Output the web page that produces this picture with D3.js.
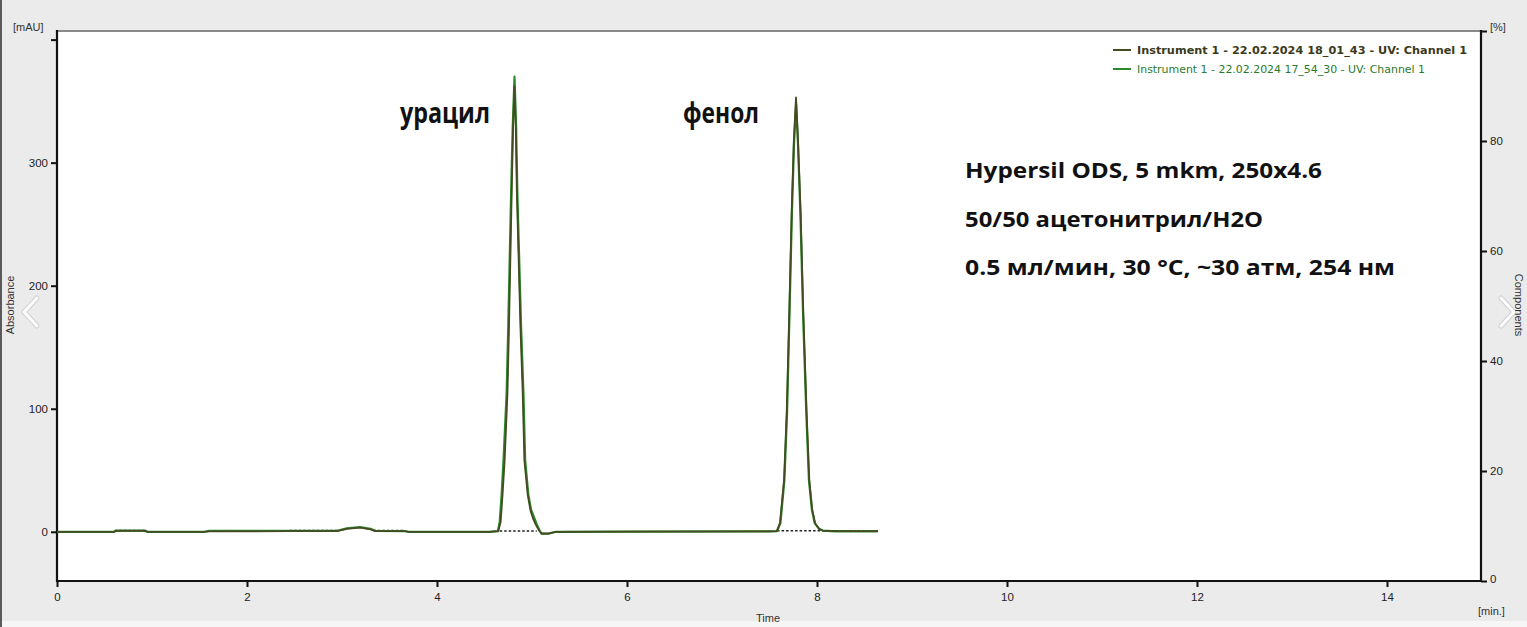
<!DOCTYPE html>
<html>
<head>
<meta charset="utf-8">
<script src="https://cdn.jsdelivr.net/npm/d3@7"></script>
<style>
  html, body { margin: 0; padding: 0; background: #ebebeb; }
  svg { display: block; }
</style>
</head>
<body>
<svg id="chart" width="1527" height="627"></svg>
<script>
// ---------------- DATA ----------------
const timeTicks = [0, 2, 4, 6, 8, 10, 12, 14];
const absTicks = [0, 100, 200, 300, 400];
const pctTicks = [0, 20, 40, 60, 80, 100];

const seriesNames = [
  "Instrument 1 - 22.02.2024 18_01_43 - UV: Channel 1",
  "Instrument 1 - 22.02.2024 17_54_30 - UV: Channel 1"
];
const seriesColors = ["#454a22", "#2c8a2c"];

// run 18_01_43 (time min, mAU)
const run1 = [
  [0, 0], [0.6, 0], [0.62, 0.7], [0.93, 0.7], [0.95, 0], [1.55, 0], [1.6, 0.3],
  [2.45, 0.5], [2.95, 0.6], [3.05, 2.4], [3.19, 3.4], [3.3, 2], [3.35, 0.6],
  [3.66, 0.5], [3.7, 0], [4.55, 0], [4.645, 0.5], [4.67, 8], [4.69, 30],
  [4.712, 58], [4.742, 113], [4.758, 167], [4.786, 275], [4.801, 329],
  [4.815, 362], [4.829, 329], [4.841, 275], [4.878, 167], [4.902, 113],
  [4.92, 58], [4.955, 30], [4.985, 17], [5.015, 10], [5.045, 5], [5.075, 1],
  [5.10, -1.4], [5.17, -1.4], [5.25, 0], [6.0, 0.2], [7.5, 0.3], [7.576, 0.5],
  [7.61, 7], [7.653, 42], [7.681, 97], [7.708, 178], [7.733, 259],
  [7.756, 318], [7.779, 353], [7.80, 318], [7.828, 259], [7.856, 178],
  [7.891, 97], [7.919, 42], [7.95, 18], [7.98, 7], [8.02, 2.5], [8.06, 1],
  [8.2, 0.5], [8.64, 0.5]
];

// run 17_54_30 (time min, mAU)
const run2 = [
  [0, 0], [0.6, 0], [0.62, 0.9], [0.93, 0.9], [0.95, 0], [1.55, 0], [1.6, 0.8],
  [2.45, 0.8], [2.95, 0.8], [3.05, 2.8], [3.19, 3.9], [3.3, 2.4], [3.35, 0.8],
  [3.66, 0.6], [3.7, 0], [4.55, 0], [4.64, 0.5], [4.66, 8], [4.68, 30],
  [4.70, 58], [4.733, 113], [4.75, 167], [4.78, 275], [4.797, 329],
  [4.816, 370], [4.833, 329], [4.846, 275], [4.885, 167], [4.91, 113],
  [4.928, 58], [4.962, 30], [4.99, 18], [5.02, 12], [5.05, 6], [5.08, 1],
  [5.10, -1.6], [5.17, -1.6], [5.25, 0], [6.0, 0.2], [7.5, 0.3], [7.58, 0.5],
  [7.615, 7], [7.657, 42], [7.685, 97], [7.711, 178], [7.736, 259],
  [7.758, 315], [7.78, 348], [7.80, 315], [7.825, 259], [7.853, 178],
  [7.887, 97], [7.915, 42], [7.946, 18], [7.976, 7], [8.02, 2.5], [8.06, 1],
  [8.2, 0.4], [8.64, 0.4]
];

// dotted integration baselines: [start time, end time, level mAU]
const baselines = [
  [0.61, 0.93, 1.0], [2.45, 2.95, 1.0], [3.33, 3.66, 1.0],
  [4.66, 5.05, 0.6], [7.58, 8.64, 0.9]
];

// peak labels: [name, time of label start, level mAU]
const peakLabels = [["урацил", 3.61, 332], ["фенол", 6.59, 332]];

const infoLines = [
  "Hypersil ODS, 5 mkm, 250x4.6",
  "50/50 ацетонитрил/H2O",
  "0.5 мл/мин, 30 °C, ~30 атм, 254 нм"
];
const infoWidths = [357, 298, 430];

// ---------------- DRAW ----------------
const svg = d3.select("#chart");
const W = 1527, H = 627;
const L = 57, R = 1482, T = 31, B = 581;

const x = d3.scaleLinear().domain([0, 15]).range([L, R]);
const y = d3.scaleLinear().domain([-40, 407]).range([B, T]);
const yR = d3.scaleLinear().domain([0, 100]).range([B, T]);

// backgrounds
svg.append("rect").attr("width", W).attr("height", H).attr("fill", "#ebebeb");
svg.append("rect").attr("x", 0).attr("y", 621).attr("width", W).attr("height", 6).attr("fill", "#f6f6f6");
svg.append("rect").attr("x", 0).attr("y", 0).attr("width", 2).attr("height", H).attr("fill", "#5a5a5a");
svg.append("rect").attr("x", L).attr("y", T).attr("width", R - L).attr("height", B - T).attr("fill", "#ffffff");

const font = "'Liberation Sans', Arial, sans-serif";

// axes
const gx = svg.append("g").attr("transform", `translate(0,${B})`)
  .call(d3.axisBottom(x).tickValues(timeTicks).tickSize(6).tickPadding(6).tickFormat(d3.format("d")));
const gy = svg.append("g").attr("transform", `translate(${L},0)`)
  .call(d3.axisLeft(y).tickValues(absTicks).tickSize(6).tickPadding(3)
    .tickFormat(d => d === 400 ? "" : d));
const gyr = svg.append("g").attr("transform", `translate(${R - 1},0)`)
  .call(d3.axisRight(yR).tickValues(pctTicks).tickSize(6).tickPadding(3)
    .tickFormat(d => d === 100 ? "" : d));

[gx, gy, gyr].forEach(g => {
  g.select(".domain").remove();
  g.selectAll(".tick line").attr("stroke", "#111").attr("stroke-width", 2);
  g.selectAll(".tick text").attr("font-family", font).attr("font-size", 11.5).attr("fill", "#222");
});
gyr.selectAll(".tick text").filter(d => d === 0).attr("dy", "0.1em");

// frame
svg.append("line").attr("x1", L).attr("x2", R).attr("y1", T).attr("y2", T)
  .attr("stroke", "#8a8a8a").attr("stroke-width", 2);
svg.append("line").attr("x1", L).attr("x2", L).attr("y1", T - 1).attr("y2", B + 1)
  .attr("stroke", "#111").attr("stroke-width", 2.2);
svg.append("line").attr("x1", R - 1).attr("x2", R - 1).attr("y1", T - 1).attr("y2", B + 1)
  .attr("stroke", "#111").attr("stroke-width", 2.2);
svg.append("line").attr("x1", L).attr("x2", R).attr("y1", B).attr("y2", B)
  .attr("stroke", "#111").attr("stroke-width", 2.2);

// axis titles / units
svg.append("text").attr("x", 13).attr("y", 31).text("[mAU]")
  .attr("font-family", font).attr("font-size", 11).attr("fill", "#333");
svg.append("text").attr("x", 1490).attr("y", 31).text("[%]")
  .attr("font-family", font).attr("font-size", 11).attr("fill", "#333");
svg.append("text").attr("x", 1478).attr("y", 615).text("[min.]")
  .attr("font-family", font).attr("font-size", 11).attr("fill", "#333");
svg.append("text").attr("x", 768).attr("y", 622).attr("text-anchor", "middle").text("Time")
  .attr("font-family", font).attr("font-size", 11).attr("fill", "#333");
svg.append("text").attr("transform", "translate(14,305) rotate(-90)").attr("text-anchor", "middle")
  .text("Absorbance").attr("font-family", font).attr("font-size", 11).attr("fill", "#333");
svg.append("text").attr("transform", "translate(1515,305) rotate(90)").attr("text-anchor", "middle")
  .text("Components").attr("font-family", font).attr("font-size", 11).attr("fill", "#333");

// plot content
const plot = svg.append("g");
const line = d3.line().x(d => x(d[0])).y(d => y(d[1]));

// dotted baselines
plot.selectAll(".bl").data(baselines).join("line")
  .attr("x1", d => x(d[0])).attr("x2", d => x(d[1]))
  .attr("y1", d => y(d[2])).attr("y2", d => y(d[2]))
  .attr("stroke", "#222").attr("stroke-width", 1.6).attr("stroke-dasharray", "2.5,2");

plot.append("path").datum(run2).attr("d", line)
  .attr("fill", "none").attr("stroke", seriesColors[1]).attr("stroke-width", 2.2)
  .attr("stroke-linejoin", "round");
plot.append("path").datum(run1).attr("d", line)
  .attr("fill", "none").attr("stroke", seriesColors[0]).attr("stroke-width", 1.8)
  .attr("stroke-linejoin", "round");

// peak labels
const labelFont = "'Open Sans', 'Noto Sans', sans-serif";
plot.selectAll(".pl").data(peakLabels).join("text")
  .attr("x", d => x(d[1])).attr("y", d => y(d[2]))
  .text(d => d[0])
  .attr("font-family", labelFont).attr("font-weight", 700).attr("font-size", 28)
  .attr("fill", "#111")
  .attr("textLength", d => d[0] === "урацил" ? 90 : 76)
  .attr("lengthAdjust", "spacingAndGlyphs");

// info block
svg.selectAll(".info").data(infoLines).join("text")
  .attr("x", 965).attr("y", (d, i) => 178 + i * 48.5)
  .text(d => d)
  .attr("font-family", labelFont).attr("font-weight", 700).attr("font-size", 20.5)
  .attr("fill", "#111")
  .attr("textLength", (d, i) => infoWidths[i])
  .attr("lengthAdjust", "spacingAndGlyphs");

// legend
const lg = svg.append("g");
seriesNames.forEach((name, i) => {
  const yy = 50 + i * 19;
  lg.append("line").attr("x1", 1113).attr("x2", 1131).attr("y1", yy).attr("y2", yy)
    .attr("stroke", seriesColors[i]).attr("stroke-width", 2);
  lg.append("text").attr("x", 1137).attr("y", yy + 4).text(name)
    .attr("font-family", "'DejaVu Sans', sans-serif").attr("font-size", 10.5)
    .attr("font-weight", i === 0 ? 700 : 400)
    .attr("fill", i === 0 ? "#3a3a1c" : "#2a7a2a")
    .attr("textLength", i === 0 ? 330 : 288)
    .attr("lengthAdjust", "spacingAndGlyphs");
});

// viewer navigation chevrons
[[37, 298, 24, 312, 37, 326], [1501, 298, 1514, 312, 1501, 326]].forEach(p => {
  svg.append("path").attr("d", `M${p[0]},${p[1]}L${p[2]},${p[3]}L${p[4]},${p[5]}`)
    .attr("fill", "none").attr("stroke", "rgba(0,0,0,0.12)").attr("stroke-width", 5)
    .attr("stroke-linecap", "round").attr("stroke-linejoin", "round");
  svg.append("path").attr("d", `M${p[0]},${p[1]}L${p[2]},${p[3]}L${p[4]},${p[5]}`)
    .attr("fill", "none").attr("stroke", "#ffffff").attr("stroke-width", 3)
    .attr("stroke-linecap", "round").attr("stroke-linejoin", "round");
});
</script>
</body>
</html>
